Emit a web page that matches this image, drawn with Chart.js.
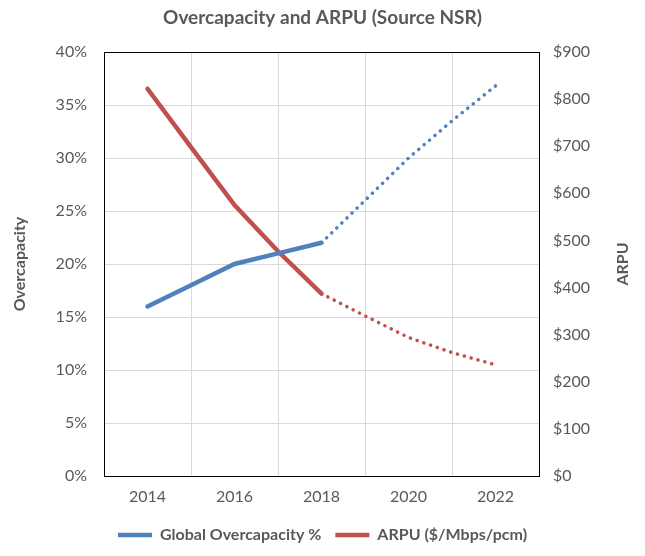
<!DOCTYPE html>
<html>
<head>
<meta charset="utf-8">
<title>Overcapacity and ARPU</title>
<script src="https://cdn.jsdelivr.net/npm/chart.js@4.4.1/dist/chart.umd.min.js"></script>
<style>
    html, body { margin: 0; padding: 0; background: #ffffff; }
    #wrap { width: 645px; height: 556px; position: relative; }
</style>
</head>
<body>
<div id="wrap"><canvas id="overcapacityChart"></canvas></div>
<script>
// 데이터
const years = [2014, 2015, 2016, 2017, 2018, 2019, 2020, 2021, 2022];
const overcapacity = [16, 18, 20, 21, 22, 26, 30, 33.5, 36.8];   // %
const arpu = [822, 698, 575, 477, 387, 340, 294, 262, 236];      // $/Mbps/pcm
const forecastStart = 4; // 2018 이후는 점선 (예측)
const tickYears = [2013, 2014, 2015, 2016, 2017, 2018, 2019, 2020, 2021, 2022, 2023];

// 기본 설정
Chart.defaults.font.family = 'Lato, "Open Sans", sans-serif';
Chart.defaults.color = '#595959';

const BLUE = '#4f81bd';
const RED = '#c0504d';
const GRID = '#d9d9d9';
const FRAME = '#000000';

function toPoints(values) {
    return years.map((y, i) => ({ x: y, y: values[i] }));
}

// 예측 구간은 점선
const forecastSegment = {
    borderDash: ctx => ctx.p0DataIndex >= forecastStart ? [0.1, 7] : undefined,
    borderWidth: ctx => ctx.p0DataIndex >= forecastStart ? 3.5 : undefined
};

// 오른쪽 축 제목 (아래에서 위로 읽기)
const rightTitlePlugin = {
    id: 'rightTitle',
    afterDraw(chart) {
        const { ctx, chartArea } = chart;
        ctx.save();
        ctx.translate(chart.width - 22, (chartArea.top + chartArea.bottom) / 2);
        ctx.rotate(-Math.PI / 2);
        ctx.font = 'bold 16px Lato, "Open Sans", sans-serif';
        ctx.fillStyle = '#595959';
        ctx.textAlign = 'center';
        ctx.textBaseline = 'middle';
        ctx.fillText('ARPU', 0, 0);
        ctx.restore();
    }
};

function createChart(ctx) {
    return new Chart(ctx, {
        type: 'line',
        data: {
            datasets: [
                {
                    label: 'Global Overcapacity %',
                    data: toPoints(overcapacity),
                    yAxisID: 'y',
                    borderColor: BLUE,
                    backgroundColor: BLUE,
                    borderWidth: 4.5,
                    borderCapStyle: 'round',
                    pointRadius: 0,
                    tension: 0,
                    segment: forecastSegment
                },
                {
                    label: 'ARPU ($/Mbps/pcm)',
                    data: toPoints(arpu),
                    yAxisID: 'y1',
                    borderColor: RED,
                    backgroundColor: RED,
                    borderWidth: 4.5,
                    borderCapStyle: 'round',
                    pointRadius: 0,
                    tension: 0,
                    segment: forecastSegment
                }
            ]
        },
        options: {
            responsive: true,
            maintainAspectRatio: false,
            animation: false,
            layout: { padding: { bottom: 3 } },
            plugins: {
                title: {
                    display: true,
                    text: 'Overcapacity and ARPU (Source NSR)',
                    color: '#595959',
                    font: { size: 19, weight: 'bold' },
                    padding: { top: 6.6, bottom: 22.6 }
                },
                legend: {
                    position: 'bottom',
                    labels: {
                        usePointStyle: true,
                        pointStyle: 'line',
                        pointStyleWidth: 34,
                        padding: 14,
                        color: '#595959',
                        font: { size: 16, weight: 'bold' }
                    }
                },
                tooltip: { enabled: false }
            },
            scales: {
                x: {
                    type: 'linear',
                    min: 2013,
                    max: 2023,
                    afterBuildTicks: scale => {
                        scale.ticks = tickYears.map(v => ({ value: v }));
                    },
                    afterFit: scale => { scale.height = 37; },
                    grid: {
                        drawTicks: false,
                        color: c => (c.tick && c.tick.value % 2 === 1) ? GRID : 'rgba(0,0,0,0)'
                    },
                    border: { color: FRAME, width: 1 },
                    ticks: {
                        padding: 11,
                        autoSkip: false,
                        maxRotation: 0,
                        font: { size: 16 },
                        callback: v => v % 2 === 0 ? String(v) : ''
                    }
                },
                y: {
                    position: 'left',
                    min: 0,
                    max: 40,
                    afterFit: scale => { scale.width = 104; },
                    grid: {
                        drawTicks: false,
                        color: c => c.tick && c.tick.value === 40 ? FRAME : GRID
                    },
                    border: { color: FRAME, width: 1 },
                    ticks: {
                        stepSize: 5,
                        padding: 17,
                        font: { size: 16 },
                        callback: v => v + '%'
                    },
                    title: {
                        display: true,
                        text: 'Overcapacity',
                        color: '#595959',
                        font: { size: 16, weight: 'bold' },
                        padding: { top: 10.4, bottom: 0 }
                    }
                },
                y1: {
                    position: 'right',
                    min: 0,
                    max: 900,
                    afterFit: scale => { scale.width = 106; },
                    grid: { display: false, drawTicks: false },
                    border: { color: FRAME, width: 1 },
                    ticks: {
                        stepSize: 100,
                        padding: 14,
                        font: { size: 16 },
                        callback: v => '$' + v
                    }
                }
            }
        },
        plugins: [rightTitlePlugin]
    });
}

createChart(document.getElementById('overcapacityChart').getContext('2d'));
</script>
</body>
</html>
